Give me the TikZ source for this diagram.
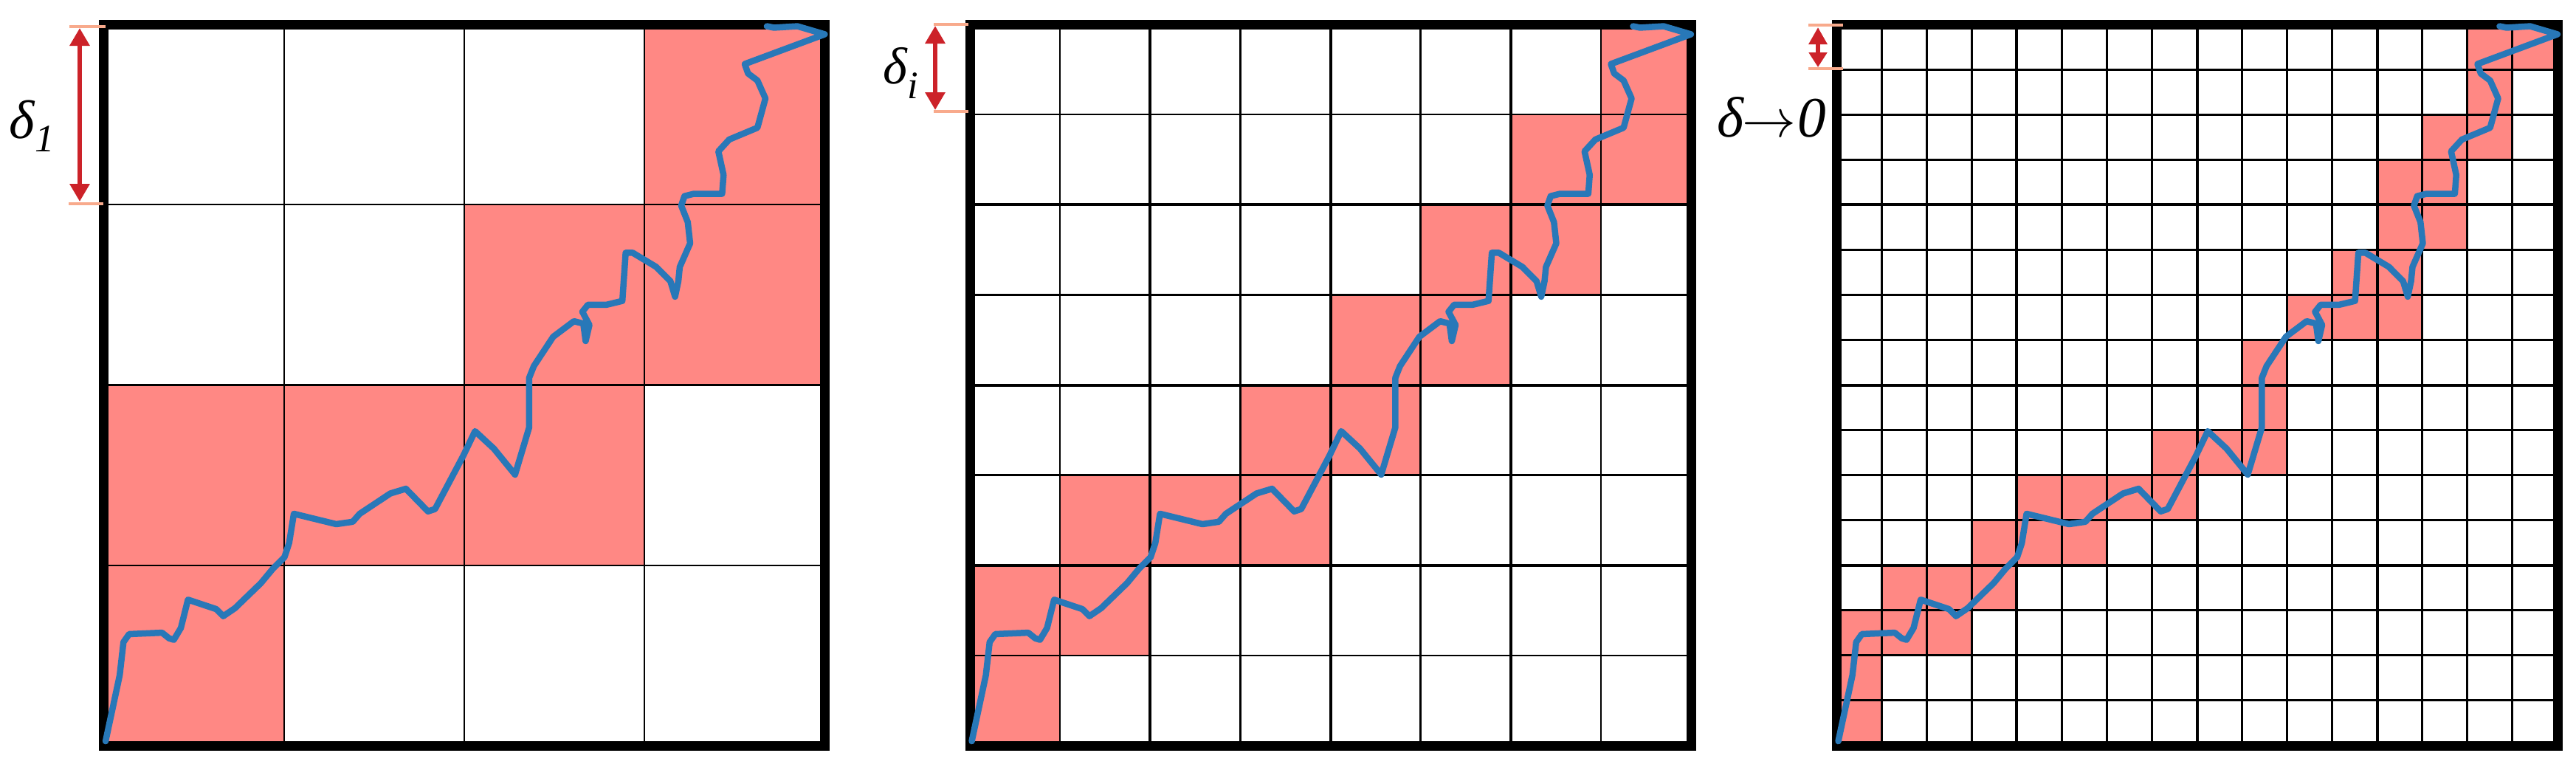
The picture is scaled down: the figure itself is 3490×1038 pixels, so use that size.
\documentclass[tikz,border=0pt]{standalone}
\usepackage{fontspec}
\setmainfont{Liberation Serif}
\usetikzlibrary{arrows.meta}
\definecolor{cellpink}{RGB}{255,136,132}
\definecolor{walkblue}{RGB}{40,120,184}
\definecolor{dimred}{RGB}{204,34,41}
\definecolor{tickpeach}{RGB}{248,170,140}

\newcommand\walkcurve{(4,1519) -- (34,1379) -- (42,1309) -- (54,1292) -- (124,1289) -- (139,1301) -- (149,1304) -- (164,1279) -- (179,1219) -- (239,1239) -- (254,1254) -- (279,1237) -- (334,1184) -- (359,1154) -- (384,1129) -- (394,1099) -- (404,1037) -- (494,1059) -- (529,1054) -- (544,1037) -- (609,994) -- (642,984) -- (689,1032) -- (704,1027) -- (764,914) -- (789,862) -- (829,899) -- (874,954) -- (904,854) -- (904,749) -- (914,724) -- (955,662) -- (999,629) -- (1019,634) -- (1024,671) -- (1032,637) -- (1017,609) -- (1029,594) -- (1069,594) -- (1102,586) -- (1109,484) -- (1124,484) -- (1174,514) -- (1204,544) -- (1214,577) -- (1221,544) -- (1224,514) -- (1246,464) -- (1241,419) -- (1227,384) -- (1234,364) -- (1254,359) -- (1314,359) -- (1317,319) -- (1306,269) -- (1329,244) -- (1389,219) -- (1406,157) -- (1389,119) -- (1369,104) -- (1362,84) -- (1532,21) -- (1474,4) -- (1424,7) -- (1409,4)}

% #1 xshift (mm), #2 cells per side, #3 pink cells (row/col from top-left), #4 heavier line every, #5 base grid width
\newcommand\gridpanel[5]{%
  \begin{scope}[xshift=#1mm, yshift=-3.3mm]
    \pgfmathsetmacro\cellsz{977/#2}
    \pgfmathtruncatemacro\nminus{#2-1}
    \foreach \ri/\ci in {#3}{\fill[cellpink] ({\ci*\cellsz},{\ri*\cellsz}) rectangle ++(\cellsz,\cellsz);}
    \foreach \k in {1,...,\nminus}{
      \pgfmathtruncatemacro\isheavy{mod(\k,#4)==0 ? 1 : 0}
      \ifnum\isheavy=1 \def\gw{0.4mm}\else\def\gw{#5}\fi
      \draw[line width=\gw] ({\k*\cellsz},0) -- ({\k*\cellsz},977);
      \draw[line width=\gw] (0,{\k*\cellsz}) -- (977,{\k*\cellsz});
    }
    \draw[frame] (0,0) rectangle (977,977);
    \begin{scope}[x=0.063773mm, y=-0.06394mm]
      \draw[walk] \walkcurve;
    \end{scope}
  \end{scope}}

\begin{document}
\begin{tikzpicture}[x=0.1mm, y=-0.1mm,
  frame/.style={line width=1.3mm, black, line join=miter},
  walk/.style={walkblue, line width=0.85mm, line join=round, line cap=round},
  dimarrow/.style={dimred, line width=0.65mm, {Triangle[width=2.6mm,length=2.4mm]}-{Triangle[width=2.6mm,length=2.4mm]}},
  dimarrowsmall/.style={dimred, line width=0.65mm, {Triangle[width=2.4mm,length=2.3mm]}-{Triangle[width=2.4mm,length=2.0mm]}},
  tickline/.style={tickpeach, line width=0.38mm},
  lbl/.style={inner sep=0pt, anchor=base west}]
\useasboundingbox[fill=white] (0,0) rectangle (3490,1038);

\gridpanel{14.05}{4}{0/3,1/2,1/3,2/0,2/1,2/2,3/0}{100}{0.24mm}
\gridpanel{131.4}{8}{0/7,1/6,1/7,2/5,2/6,3/4,3/5,4/3,4/4,5/1,5/2,5/3,6/0,6/1,7/0}{2}{0.24mm}
\gridpanel{248.8}{16}{0/14,0/15,1/14,2/13,2/14,3/12,3/13,4/12,4/13,5/11,5/12,6/10,6/11,6/12,7/9,8/9,9/7,9/8,9/9,10/4,10/5,10/6,10/7,11/3,11/4,11/5,12/1,12/2,12/3,13/0,13/1,13/2,14/0,15/0}{4}{0.3mm}

% tick marks
\coordinate (t1a) at (94,36);   \coordinate (t1b) at (143,36);
\coordinate (t1c) at (93,276);  \coordinate (t1d) at (140,276);
\coordinate (t2a) at (1265,33); \coordinate (t2b) at (1312,33);
\coordinate (t2c) at (1265,151);\coordinate (t2d) at (1312,151);
\coordinate (t3a) at (2450,34); \coordinate (t3b) at (2497,34);
\coordinate (t3c) at (2450,93); \coordinate (t3d) at (2497,93);
\draw[tickline] (t1a) -- (t1b);
\draw[tickline] (t1c) -- (t1d);
\draw[tickline] (t2a) -- (t2b);
\draw[tickline] (t2c) -- (t2d);
\draw[tickline] (t3a) -- (t3b);
\draw[tickline] (t3c) -- (t3d);

% dimension arrows
\coordinate (a1t) at (108,38);  \coordinate (a1b) at (108,273);
\coordinate (a2t) at (1267,35); \coordinate (a2b) at (1267,149);
\coordinate (a3t) at (2463,37); \coordinate (a3b) at (2463,91);
\draw[dimarrow] (a1t) -- (a1b);
\draw[dimarrow] (a2t) -- (a2b);
\draw[dimarrowsmall] (a3t) -- (a3b);

% labels
\node[lbl] (lab1) at (12,187) {\fontsize{21pt}{21pt}\selectfont\itshape δ\raisebox{-1.8mm}{\fontsize{15pt}{15pt}\selectfont 1}};
\node[lbl] (lab2) at (1196,113) {\fontsize{20pt}{20pt}\selectfont\itshape δ\raisebox{-2mm}{\fontsize{15pt}{15pt}\selectfont i}};
\node[lbl] (lab3) at (2326,185) {\fontsize{22pt}{22pt}\selectfont\itshape δ\kern-0.5pt$\rightarrow$\kern0.5pt0};
\end{tikzpicture}
\end{document}
